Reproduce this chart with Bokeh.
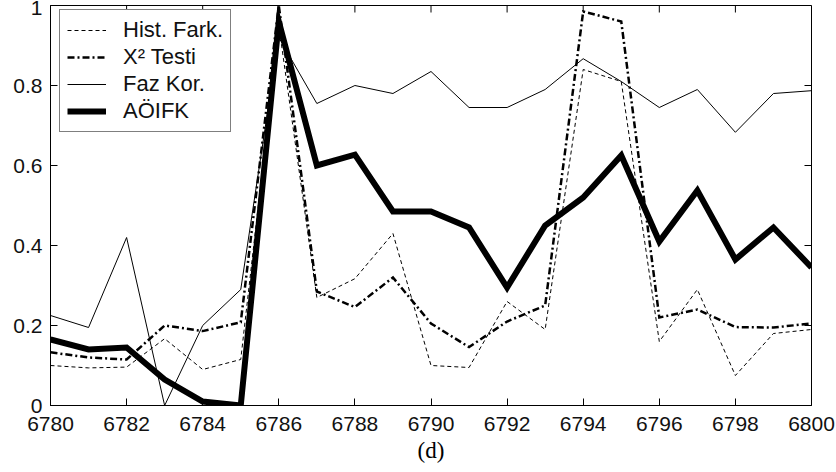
import math
from bokeh.plotting import figure
from bokeh.models import (LinearAxis, FixedTicker, PrintfTickFormatter, Range1d,
                          Legend, LegendItem, Title)
from bokeh.embed import file_html
from bokeh.resources import INLINE

frames = list(range(6780, 6801))
hist_fark = [0.10, 0.094, 0.096, 0.167, 0.09, 0.115, 0.95, 0.27, 0.317, 0.43, 0.10,
             0.095, 0.26, 0.19, 0.84, 0.81, 0.16, 0.29, 0.075, 0.18, 0.19]
x2_testi = [0.133, 0.12, 0.115, 0.20, 0.186, 0.208, 1.0, 0.285, 0.246, 0.32, 0.205,
            0.146, 0.21, 0.25, 0.985, 0.96, 0.22, 0.24, 0.196, 0.195, 0.205]
faz_kor = [0.225, 0.195, 0.42, 0.0, 0.2, 0.29, 0.92, 0.755, 0.80, 0.78, 0.835,
           0.745, 0.745, 0.79, 0.867, 0.81, 0.745, 0.79, 0.683, 0.78, 0.787]
aoifk = [0.165, 0.14, 0.145, 0.065, 0.01, 0.0, 0.96, 0.60, 0.627, 0.485, 0.485,
         0.445, 0.295, 0.45, 0.52, 0.625, 0.41, 0.5375, 0.365, 0.445, 0.345]

series_labels = ["Hist. Fark.", "X\u00b2 Testi", "Faz Kor.", "A\u00d6IFK"]
x_ticks = list(range(6780, 6801, 2))
y_ticks = [0, 0.2, 0.4, 0.6, 0.8, 1]
caption = "(d)"

FONT = "Liberation Sans"
FS = "21px"

p = figure(frame_width=761, frame_height=400, output_backend="svg",
           toolbar_location=None, x_axis_location=None, y_axis_location=None,
           min_border_left=50, min_border_right=24, min_border_top=5,
           min_border_bottom=10)
p.x_range = Range1d(x_ticks[0], x_ticks[-1])
p.y_range = Range1d(y_ticks[0], y_ticks[-1])
p.background_fill_color = "white"
p.border_fill_color = "white"
p.outline_line_color = "black"
p.outline_line_width = 1
p.xgrid.visible = False
p.ygrid.visible = False


def style_axis(ax, ticks, standoff):
    ax.ticker = FixedTicker(ticks=ticks)
    ax.minor_tick_line_color = None
    ax.major_tick_in = 7
    ax.major_tick_out = 0
    ax.major_tick_line_color = "black"
    ax.axis_line_color = "black"
    ax.major_label_text_font = FONT
    ax.major_label_text_font_size = FS
    ax.major_label_text_color = "#111111"
    ax.major_label_standoff = standoff
    return ax


xb = style_axis(LinearAxis(), x_ticks, 11)
yl = style_axis(LinearAxis(formatter=PrintfTickFormatter(format="%g")), y_ticks, 8)
p.add_layout(xb, "below")
p.add_layout(yl, "left")

# inward ticks on the top and right edges of the box
p.ray(x=x_ticks, y=[y_ticks[-1]] * len(x_ticks), length=7, length_units="screen",
      angle=-math.pi / 2, line_color="black", line_width=1)
p.ray(x=[x_ticks[-1]] * len(y_ticks), y=y_ticks, length=7, length_units="screen",
      angle=math.pi, line_color="black", line_width=1)

r1 = p.line(frames, hist_fark, line_color="black", line_width=1, line_dash="4 3",
            line_join="miter")
r2 = p.line(frames, x2_testi, line_color="black", line_width=2.5, line_dash="7 3 2 3",
            line_join="miter")
r3 = p.line(frames, faz_kor, line_color="black", line_width=1, line_join="miter")
r4 = p.line(frames, aoifk, line_color="black", line_width=6, line_join="miter")

legend = Legend(items=[LegendItem(label=series_labels[0], renderers=[r1]),
                       LegendItem(label=series_labels[1], renderers=[r2]),
                       LegendItem(label=series_labels[2], renderers=[r3]),
                       LegendItem(label=series_labels[3], renderers=[r4])],
                location=(9, 273))
legend.label_text_font = FONT
legend.label_text_font_size = "22px"
legend.label_text_color = "#111111"
legend.glyph_width = 39
legend.glyph_height = 20
legend.label_height = 20
legend.label_standoff = 17
legend.spacing = 1
legend.padding = 7
legend.margin = 0
legend.border_line_color = "black"
legend.border_line_width = 1
legend.background_fill_color = "white"
legend.background_fill_alpha = 1
p.add_layout(legend)

cap = Title(text=caption, align="center", text_font="Liberation Serif",
            text_font_size="23px", text_font_style="normal", text_color="black",
            standoff=4, offset=-9)
p.add_layout(cap, "below")

open("out.html", "w").write(file_html(p, INLINE))
